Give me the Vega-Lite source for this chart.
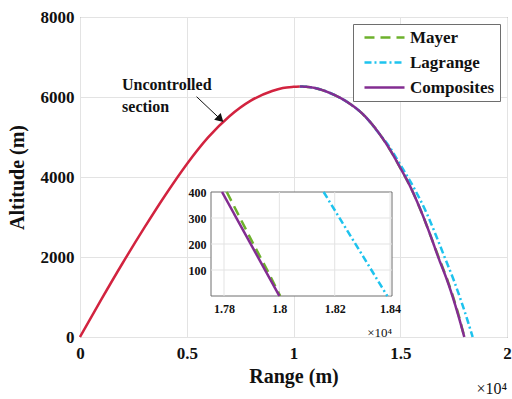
{
  "$schema": "https://vega.github.io/schema/vega-lite/v6.json",
  "width": 427,
  "height": 320,
  "autosize": {"type": "none"},
  "padding": {"left": 80, "top": 17, "right": 5, "bottom": 62},
  "background": "white",
  "config": {
    "view": {"stroke": "#6e6e6e", "strokeWidth": 1},
    "font": "Liberation Serif, serif",
    "axis": {
      "labelFont": "Liberation Serif, serif",
      "labelFontWeight": "bold",
      "labelColor": "#111111",
      "titleFont": "Liberation Serif, serif",
      "titleFontWeight": "bold",
      "titleColor": "#111111",
      "gridColor": "#e3e3e3",
      "gridWidth": 1,
      "domain": false,
      "ticks": false,
      "labelFlush": false,
      "labelOverlap": false
    },
    "legend": {
      "orient": "none",
      "legendX": 273,
      "legendY": 7,
      "strokeColor": "#6e6e6e",
      "fillColor": "white",
      "padding": 5,
      "symbolType": "M-2.83,0H2.83",
      "symbolSize": 200,
      "symbolStrokeWidth": 2.5,
      "symbolOffset": 18,
      "labelOffset": 17,
      "labelFont": "Liberation Serif, serif",
      "labelFontWeight": "bold",
      "labelFontSize": 17,
      "labelColor": "#111111",
      "rowPadding": 7
    }
  },
  "datasets": {
    "uncontrolled": [
      {"range": 0, "altitude": 0},
      {"range": 0.1, "altitude": 940},
      {"range": 0.2, "altitude": 1850},
      {"range": 0.3, "altitude": 2720},
      {"range": 0.4, "altitude": 3550},
      {"range": 0.5, "altitude": 4320},
      {"range": 0.6, "altitude": 4990},
      {"range": 0.7, "altitude": 5520},
      {"range": 0.8, "altitude": 5910},
      {"range": 0.9, "altitude": 6150},
      {"range": 0.95, "altitude": 6225},
      {"range": 1.0, "altitude": 6255},
      {"range": 1.03, "altitude": 6265}
    ],
    "controlled": [
      {"method": "Mayer", "range": 1.03, "altitude": 6265},
      {"method": "Mayer", "range": 1.1, "altitude": 6225},
      {"method": "Mayer", "range": 1.171, "altitude": 6100},
      {"method": "Mayer", "range": 1.25, "altitude": 5880},
      {"method": "Mayer", "range": 1.327, "altitude": 5560},
      {"method": "Mayer", "range": 1.405, "altitude": 5060},
      {"method": "Mayer", "range": 1.45, "altitude": 4700},
      {"method": "Mayer", "range": 1.5, "altitude": 4230},
      {"method": "Mayer", "range": 1.546, "altitude": 3770},
      {"method": "Mayer", "range": 1.601, "altitude": 3100},
      {"method": "Mayer", "range": 1.64, "altitude": 2560},
      {"method": "Mayer", "range": 1.682, "altitude": 1967},
      {"method": "Mayer", "range": 1.724, "altitude": 1380},
      {"method": "Mayer", "range": 1.757, "altitude": 842},
      {"method": "Mayer", "range": 1.781, "altitude": 400},
      {"method": "Mayer", "range": 1.7906, "altitude": 200},
      {"method": "Mayer", "range": 1.8003, "altitude": 0},
      {"method": "Lagrange", "range": 1.03, "altitude": 6265},
      {"method": "Lagrange", "range": 1.1, "altitude": 6225},
      {"method": "Lagrange", "range": 1.171, "altitude": 6100},
      {"method": "Lagrange", "range": 1.25, "altitude": 5880},
      {"method": "Lagrange", "range": 1.327, "altitude": 5560},
      {"method": "Lagrange", "range": 1.405, "altitude": 5060},
      {"method": "Lagrange", "range": 1.45, "altitude": 4750},
      {"method": "Lagrange", "range": 1.49, "altitude": 4400},
      {"method": "Lagrange", "range": 1.561, "altitude": 3758},
      {"method": "Lagrange", "range": 1.624, "altitude": 3092},
      {"method": "Lagrange", "range": 1.668, "altitude": 2530},
      {"method": "Lagrange", "range": 1.71, "altitude": 1967},
      {"method": "Lagrange", "range": 1.752, "altitude": 1400},
      {"method": "Lagrange", "range": 1.789, "altitude": 842},
      {"method": "Lagrange", "range": 1.816, "altitude": 400},
      {"method": "Lagrange", "range": 1.839, "altitude": 0},
      {"method": "Composites", "range": 1.03, "altitude": 6265},
      {"method": "Composites", "range": 1.1, "altitude": 6225},
      {"method": "Composites", "range": 1.171, "altitude": 6100},
      {"method": "Composites", "range": 1.25, "altitude": 5880},
      {"method": "Composites", "range": 1.327, "altitude": 5560},
      {"method": "Composites", "range": 1.405, "altitude": 5060},
      {"method": "Composites", "range": 1.45, "altitude": 4700},
      {"method": "Composites", "range": 1.5, "altitude": 4230},
      {"method": "Composites", "range": 1.546, "altitude": 3770},
      {"method": "Composites", "range": 1.601, "altitude": 3100},
      {"method": "Composites", "range": 1.64, "altitude": 2560},
      {"method": "Composites", "range": 1.68, "altitude": 1967},
      {"method": "Composites", "range": 1.722, "altitude": 1380},
      {"method": "Composites", "range": 1.755, "altitude": 842},
      {"method": "Composites", "range": 1.7793, "altitude": 400},
      {"method": "Composites", "range": 1.8, "altitude": 0}
    ],
    "inset_lines": [
      {"method": "Mayer", "range": 1.781, "altitude": 400},
      {"method": "Mayer", "range": 1.7858, "altitude": 300},
      {"method": "Mayer", "range": 1.7906, "altitude": 200},
      {"method": "Mayer", "range": 1.7956, "altitude": 100},
      {"method": "Mayer", "range": 1.8003, "altitude": 0},
      {"method": "Lagrange", "range": 1.816, "altitude": 400},
      {"method": "Lagrange", "range": 1.839, "altitude": 0},
      {"method": "Composites", "range": 1.7793, "altitude": 400},
      {"method": "Composites", "range": 1.8, "altitude": 0}
    ],
    "inset_frame": [
      {"x1": 1.7753, "x2": 1.8407, "y1": 0, "y2": 400}
    ],
    "inset_vgrid": [
      {"range": 1.78, "lo": 0, "hi": 400},
      {"range": 1.8, "lo": 0, "hi": 400},
      {"range": 1.82, "lo": 0, "hi": 400},
      {"range": 1.84, "lo": 0, "hi": 400}
    ],
    "inset_hgrid": [
      {"altitude": 100, "lo": 1.7753, "hi": 1.8407},
      {"altitude": 200, "lo": 1.7753, "hi": 1.8407},
      {"altitude": 300, "lo": 1.7753, "hi": 1.8407}
    ],
    "main_notes": [
      {"label": "Uncontrolled\nsection", "range": 0.197, "altitude": 6300}
    ],
    "arrow": [
      {"range": 0.546, "altitude": 6008, "range_end": 0.6576, "altitude_end": 5445}
    ],
    "exponent_main": [
      {"label": "×10⁴", "range": 2.0, "altitude": -1290}
    ],
    "exponent_inset": [
      {"label": "×10⁴", "range": 1.8407, "altitude": -142}
    ]
  },
  "layer": [
    {
      "layer": [
        {
          "data": {"name": "uncontrolled"},
          "mark": {"type": "line", "color": "#D2233F", "strokeWidth": 2.5, "interpolate": "monotone"},
          "encoding": {
            "x": {
              "field": "range", "type": "quantitative",
              "scale": {"domain": [0, 2], "nice": false, "zero": false},
              "axis": {"values": [0, 0.5, 1, 1.5, 2], "labelExpr": "datum.value + ''", "title": "Range (m)", "labelFontSize": 17, "labelPadding": 8, "titleFontSize": 20, "titlePadding": 5, "grid": true}
            },
            "y": {
              "field": "altitude", "type": "quantitative",
              "scale": {"domain": [0, 8000], "nice": false},
              "axis": {"values": [0, 2000, 4000, 6000, 8000], "format": "d", "title": "Altitude (m)", "labelFontSize": 17, "labelPadding": 6, "titleFontSize": 20, "titlePadding": 13, "grid": true}
            }
          }
        },
        {
          "data": {"name": "controlled"},
          "transform": [{"filter": "datum.method === 'Mayer'"}],
          "mark": {"type": "line", "strokeWidth": 2.5, "interpolate": "monotone"},
          "encoding": {
            "x": {"field": "range", "type": "quantitative"},
            "y": {"field": "altitude", "type": "quantitative"},
            "color": {"field": "method", "type": "nominal", "title": null, "scale": {"domain": ["Mayer", "Lagrange", "Composites"], "range": ["#6DB12C", "#1EC3EE", "#832D91"]}},
            "strokeDash": {"field": "method", "type": "nominal", "title": null, "scale": {"domain": ["Mayer", "Lagrange", "Composites"], "range": [[10, 6], [7, 3, 2, 3], [1, 0]]}}
          }
        },
        {
          "data": {"name": "controlled"},
          "transform": [{"filter": "datum.method === 'Lagrange'"}],
          "mark": {"type": "line", "strokeWidth": 2.5, "interpolate": "monotone"},
          "encoding": {
            "x": {"field": "range", "type": "quantitative"},
            "y": {"field": "altitude", "type": "quantitative"},
            "color": {"field": "method", "type": "nominal", "title": null},
            "strokeDash": {"field": "method", "type": "nominal", "title": null}
          }
        },
        {
          "data": {"name": "controlled"},
          "transform": [{"filter": "datum.method === 'Composites'"}],
          "mark": {"type": "line", "strokeWidth": 2.5, "interpolate": "monotone"},
          "encoding": {
            "x": {"field": "range", "type": "quantitative"},
            "y": {"field": "altitude", "type": "quantitative"},
            "color": {"field": "method", "type": "nominal", "title": null},
            "strokeDash": {"field": "method", "type": "nominal", "title": null}
          }
        },
        {
          "data": {"name": "main_notes"},
          "mark": {"type": "text", "align": "left", "baseline": "middle", "font": "Liberation Serif, serif", "fontWeight": "bold", "fontSize": 16, "lineBreak": "\n", "lineHeight": 22, "color": "#111111"},
          "encoding": {
            "x": {"field": "range", "type": "quantitative"},
            "y": {"field": "altitude", "type": "quantitative"},
            "text": {"field": "label"}
          }
        },
        {
          "data": {"name": "arrow"},
          "mark": {"type": "rule", "color": "#111111", "strokeWidth": 1},
          "encoding": {
            "x": {"field": "range", "type": "quantitative"},
            "y": {"field": "altitude", "type": "quantitative"},
            "x2": {"field": "range_end"},
            "y2": {"field": "altitude_end"}
          }
        },
        {
          "data": {"name": "arrow"},
          "mark": {"type": "point", "shape": "triangle-right", "size": 90, "filled": true, "color": "#111111", "opacity": 1, "angle": 43.6},
          "encoding": {
            "x": {"field": "range_end", "type": "quantitative"},
            "y": {"field": "altitude_end", "type": "quantitative"}
          }
        },
        {
          "data": {"name": "exponent_main"},
          "mark": {"type": "text", "align": "right", "baseline": "middle", "font": "Liberation Serif, serif", "fontSize": 16, "color": "#111111"},
          "encoding": {
            "x": {"field": "range", "type": "quantitative"},
            "y": {"field": "altitude", "type": "quantitative"},
            "text": {"field": "label"}
          }
        }
      ]
    },
    {
      "layer": [
        {
          "data": {"name": "inset_frame"},
          "mark": {"type": "rect", "fill": "white", "stroke": "#6e6e6e", "strokeWidth": 1},
          "encoding": {
            "x": {
              "field": "x1", "type": "quantitative",
              "scale": {"domain": [1.7753, 1.8407], "range": [131, 312], "nice": false, "zero": false},
              "axis": {"orient": "bottom", "offset": -41, "values": [1.78, 1.8, 1.82, 1.84], "labelExpr": "datum.value + ''", "labelFontSize": 12, "labelPadding": 7, "title": null, "grid": false, "zindex": 1}
            },
            "x2": {"field": "x2"},
            "y": {
              "field": "y1", "type": "quantitative",
              "scale": {"domain": [0, 400], "range": [279, 175], "nice": false, "zero": false},
              "axis": {"orient": "left", "offset": -131, "values": [100, 200, 300, 400], "labelFontSize": 12, "labelPadding": 5, "title": null, "grid": false, "zindex": 1}
            },
            "y2": {"field": "y2"}
          }
        },
        {
          "data": {"name": "inset_vgrid"},
          "mark": {"type": "rule", "color": "#e3e3e3", "strokeWidth": 1},
          "encoding": {
            "x": {"field": "range", "type": "quantitative"},
            "y": {"field": "lo", "type": "quantitative"},
            "y2": {"field": "hi"}
          }
        },
        {
          "data": {"name": "inset_hgrid"},
          "mark": {"type": "rule", "color": "#e3e3e3", "strokeWidth": 1},
          "encoding": {
            "y": {"field": "altitude", "type": "quantitative"},
            "x": {"field": "lo", "type": "quantitative"},
            "x2": {"field": "hi"}
          }
        },
        {
          "data": {"name": "inset_lines"},
          "transform": [{"filter": "datum.method === 'Mayer'"}],
          "mark": {"type": "line", "strokeWidth": 2.5},
          "encoding": {
            "x": {"field": "range", "type": "quantitative"},
            "y": {"field": "altitude", "type": "quantitative"},
            "color": {"field": "method", "type": "nominal", "title": null},
            "strokeDash": {"field": "method", "type": "nominal", "title": null}
          }
        },
        {
          "data": {"name": "inset_lines"},
          "transform": [{"filter": "datum.method === 'Lagrange'"}],
          "mark": {"type": "line", "strokeWidth": 2.5},
          "encoding": {
            "x": {"field": "range", "type": "quantitative"},
            "y": {"field": "altitude", "type": "quantitative"},
            "color": {"field": "method", "type": "nominal", "title": null},
            "strokeDash": {"field": "method", "type": "nominal", "title": null}
          }
        },
        {
          "data": {"name": "inset_lines"},
          "transform": [{"filter": "datum.method === 'Composites'"}],
          "mark": {"type": "line", "strokeWidth": 2.5},
          "encoding": {
            "x": {"field": "range", "type": "quantitative"},
            "y": {"field": "altitude", "type": "quantitative"},
            "color": {"field": "method", "type": "nominal", "title": null},
            "strokeDash": {"field": "method", "type": "nominal", "title": null}
          }
        },
        {
          "data": {"name": "exponent_inset"},
          "mark": {"type": "text", "align": "right", "baseline": "middle", "font": "Liberation Serif, serif", "fontSize": 13, "color": "#111111"},
          "encoding": {
            "x": {"field": "range", "type": "quantitative"},
            "y": {"field": "altitude", "type": "quantitative"},
            "text": {"field": "label"}
          }
        }
      ]
    }
  ],
  "resolve": {"scale": {"x": "independent", "y": "independent"}}
}
